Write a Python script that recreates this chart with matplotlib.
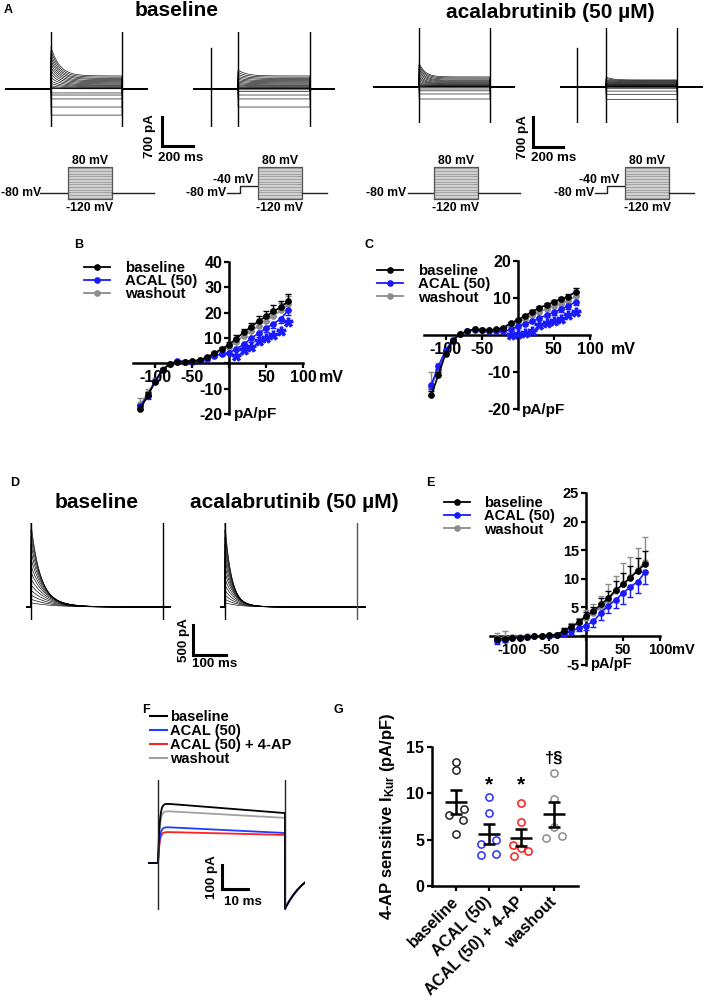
import numpy as np
import matplotlib
matplotlib.use("Agg")
import matplotlib.pyplot as plt
from matplotlib.lines import Line2D

plt.rcParams['font.family'] = ['Liberation Sans', 'DejaVu Sans']
plt.rcParams['font.weight'] = 'bold'
plt.rcParams['axes.labelweight'] = 'bold'
plt.rcParams['mathtext.fontset'] = 'custom'
plt.rcParams['mathtext.rm'] = 'Liberation Sans:bold'
plt.rcParams['mathtext.it'] = 'Liberation Sans:bold'
plt.rcParams['mathtext.bf'] = 'Liberation Sans:bold'

W, H = 709, 1008

# ====================== DATA ======================
volts = [-120, -110, -100, -90, -80, -70, -60, -50, -40, -30, -20, -10,
         0, 10, 20, 30, 40, 50, 60, 70, 80]
series_labels = ['baseline', 'ACAL (50)', 'washout']

# Panel B (pA/pF)
B_base = [-18.0, -12.6, -7.2, -2.5, -0.3, 0.7, 0.7, 0.9, 1.3, 2.4, 4.0, 5.7,
          7.4, 9.8, 12.3, 14.4, 16.7, 18.5, 20.5, 22.2, 24.5]
B_acal = [-16.8, -12.9, -7.0, -2.6, -0.2, 0.9, 0.7, 0.7, 1.0, 1.8, 2.9, 3.7,
          4.2, 5.8, 7.5, 9.9, 11.9, 13.9, 15.6, 17.6, 20.9]
B_wash = [-16.2, -11.8, -6.8, -2.3, -0.2, 0.6, 0.6, 0.8, 1.2, 2.1, 3.6, 5.0,
          6.6, 8.6, 10.9, 12.8, 14.9, 16.9, 18.8, 20.9, 23.3]
B_base_err = [1.5, 1.2, 0.8, 0.5, 0.2, 0.2, 0.2, 0.2, 0.2, 0.3, 0.4, 0.6,
              0.9, 1.2, 1.4, 1.7, 2.0, 2.2, 2.4, 2.6, 3.0]
B_acal_err = [1.2, 1.0, 0.7, 0.4, 0.2, 0.2, 0.2, 0.2, 0.2, 0.3, 0.4, 0.5,
              0.7, 0.9, 1.1, 1.3, 1.5, 1.6, 1.7, 1.8, 2.0]
B_wash_err = [2.6, 1.6, 0.9, 0.5, 0.2, 0.2, 0.2, 0.2, 0.2, 0.3, 0.5, 0.7,
              1.0, 1.3, 1.5, 1.8, 2.1, 2.3, 2.5, 2.8, 3.2]
B_star_v = [10, 20, 30, 40, 50, 60, 70, 80]
B_star_y = [3.0, 5.2, 6.6, 8.8, 9.9, 11.2, 12.8, 16.3]

# Panel C (pA/pF)
C_base = [-16.3, -10.8, -5.0, -1.5, 0.3, 1.0, 1.6, 1.4, 1.3, 1.5, 2.0, 3.2,
          4.1, 5.2, 6.3, 7.4, 8.1, 9.0, 9.7, 10.4, 11.7]
C_acal = [-13.5, -8.4, -4.1, -1.3, 0.3, 1.0, 1.4, 1.3, 1.2, 1.1, 1.0, 1.5,
          2.3, 3.0, 3.7, 4.6, 5.4, 6.1, 7.0, 7.8, 9.0]
C_wash = [-14.0, -9.5, -4.5, -1.4, 0.3, 1.0, 1.5, 1.4, 1.3, 1.3, 1.7, 2.6,
          3.5, 4.4, 5.3, 6.3, 7.0, 7.8, 8.5, 9.3, 10.5]
C_base_err = [1.2, 0.9, 0.6, 0.3, 0.1, 0.1, 0.1, 0.1, 0.1, 0.1, 0.2, 0.3,
              0.3, 0.3, 0.4, 0.4, 0.5, 0.5, 0.6, 0.7, 0.9]
C_acal_err = [1.0, 0.8, 0.5, 0.3, 0.1, 0.1, 0.1, 0.1, 0.1, 0.1, 0.2, 0.3,
              0.4, 0.4, 0.5, 0.5, 0.6, 0.6, 0.7, 0.7, 0.8]
C_wash_err = [3.9, 2.0, 0.8, 0.4, 0.1, 0.1, 0.1, 0.1, 0.1, 0.1, 0.2, 0.3,
              0.4, 0.4, 0.5, 0.5, 0.6, 0.6, 0.7, 0.8, 0.9]
C_star_v = [-10, 0, 10, 20, 30, 40, 50, 60, 70, 80]
C_star_y = [0.0, 0.4, 0.6, 1.1, 2.6, 3.2, 3.7, 4.2, 5.4, 6.3]

# Panel E (pA/pF)
E_base = [-0.5, -0.5, -0.3, -0.3, -0.2, -0.1, 0.0, 0.1, 0.2, 0.9, 1.6, 2.4,
          3.5, 4.3, 5.5, 6.6, 8.0, 9.0, 10.2, 11.4, 12.6]
E_acal = [-0.9, -0.7, -0.4, -0.3, -0.2, -0.1, 0.0, 0.0, 0.1, 0.4, 0.8, 1.4,
          1.8, 2.6, 4.0, 5.3, 6.3, 7.5, 8.6, 9.5, 11.2]
E_wash = [-0.3, -0.3, -0.2, -0.2, -0.1, 0.0, 0.0, 0.1, 0.2, 0.8, 1.5, 2.2,
          3.2, 4.0, 5.0, 6.3, 7.9, 9.1, 10.3, 11.6, 13.0]
E_base_err = [0.3, 0.3, 0.2, 0.2, 0.1, 0.1, 0.1, 0.1, 0.2, 0.4, 0.5, 0.6,
              0.7, 0.7, 1.1, 1.2, 1.6, 2.0, 2.0, 2.2, 2.2]
E_acal_err = [0.6, 0.3, 0.2, 0.2, 0.1, 0.1, 0.1, 0.1, 0.2, 0.3, 0.4, 0.5,
              0.8, 1.0, 1.2, 1.3, 1.5, 1.9, 1.8, 2.0, 2.2]
E_wash_err = [0.8, 1.1, 0.4, 0.3, 0.2, 0.2, 0.2, 0.2, 0.3, 0.5, 0.7, 1.0,
              1.3, 1.5, 1.9, 2.8, 2.5, 3.7, 3.5, 3.8, 4.3]

# Panel G (4-AP sensitive IKur, pA/pF)
G_categories = ['baseline', 'ACAL (50)', 'ACAL (50) + 4-AP', 'washout']
G_baseline = [13.4, 12.5, 8.3, 7.7, 7.1, 5.6]
G_acal = [9.6, 7.9, 5.0, 4.5, 3.3, 3.4]
G_acal_4ap = [9.0, 6.9, 4.4, 4.1, 3.8, 3.2]
G_washout = [12.2, 9.4, 6.4, 5.2, 5.4]
G_marks = ['', '*', '*', '†§']
G_mark_y = [0, 10.9, 10.9, 13.8]

# Panel A: sweep current levels (pA), test pulses -120..80 mV
A1_peak = [-630, -435, -240, -145, -95, 10, 20, 40, 80, 140, 200, 280, 360,
           440, 520, 600, 680, 760, 840, 930, 1015]
A1_steady = [-630, -435, -240, -145, -95, 5, 10, 15, 25, 40, 60, 80, 100,
             125, 150, 175, 200, 230, 255, 285, 315]
A2_peak = [-435, -240, -145, -60, -20, 5, 12, 20, 35, 55, 80, 105, 135, 165,
           200, 235, 270, 310, 355, 405, 460]
A2_steady = [-435, -240, -145, -60, -20, 5, 10, 15, 25, 40, 60, 80, 100, 125,
             150, 175, 200, 230, 255, 285, 315]
A3_peak = [-280, -163, -90, -47, -15, 8, 15, 30, 50, 80, 110, 150, 190, 230,
           270, 320, 370, 420, 470, 515, 560]
A3_steady = [-280, -163, -90, -47, -15, 5, 8, 12, 18, 25, 35, 50, 65, 80,
             100, 120, 140, 160, 185, 210, 235]
A4_peak = [-290, -170, -95, -40, -10, 4, 8, 13, 20, 28, 38, 50, 62, 76, 92,
           108, 126, 146, 168, 200, 235]
A4_steady = [-290, -170, -95, -40, -10, 3, 6, 10, 15, 22, 30, 40, 50, 62, 75,
             90, 105, 120, 135, 150, 165]
A_tau = [55, 55, 40, 40]   # ms
# protocol timing (ms): prepulse start, pulse on, pulse off, end
A1_times = [None, 297, 755, 922]
A2_times = [116, 290, 755, 916]
A3_times = [None, 307, 780, 947]
A4_times = [113, 307, 780, 954]
prot_test_mV = volts
prot_hold_mV = -80
prot_pre_mV = -40

# Panel D transient currents (pA, ms)
D_peak = [1400, 1290, 1170, 1050, 930, 810, 690, 580, 470, 370, 280, 200, 130, 70]
D_base_tau = [30, 32, 34, 36, 38, 40, 43, 46, 49, 52, 55, 58, 62, 66]
D_acal_tau = [20, 21, 22, 23, 24, 25, 27, 29, 31, 33, 35, 37, 40, 43]
D_times = [15, 415, 440]

# Panel F representative traces (pA)
F_labels = ['baseline', 'ACAL (50)', 'ACAL (50) + 4-AP', 'washout']
F_colors = ['#000000', '#1f3cff', '#ff2020', '#a0a0a0']
F_start = [250, 151, 130, 218]
F_end = [208, 125, 117, 188]
F_tail = -190
F_times = [3.85, 52.7, 60.4]

# ====================== FIGURE ======================
fig = plt.figure(figsize=(W / 100, H / 100), dpi=100)

ax_o = fig.add_axes([0, 0, 1, 1])
ax_o.set_xlim(0, W)
ax_o.set_ylim(H, 0)
ax_o.set_axis_off()


def add_px_axes(x0, y0, x1, y1):
    ax = fig.add_axes([x0 / W, 1 - y1 / H, (x1 - x0) / W, (y1 - y0) / H])
    ax.patch.set_alpha(0)
    return ax


def txt(x, y, s, size, ha='center', va='center', rot=0, color='k', **kw):
    ax_o.text(x, y, s, fontsize=size, ha=ha, va=va, rotation=rot,
              fontweight='bold', color=color, **kw)


BLACK, BLUE, GRAY = '#000000', '#1a1aff', '#8c8c8c'

# ---------------- panel labels & titles ----------------
for lab, (x, y) in zip('ABCDEFG', [(8, 10), (79, 245), (369, 245), (15, 483),
                                    (430, 483), (146, 710), (338, 710)]):
    txt(x, y, lab, 9, ha='center')
txt(177, 11, 'baseline', 15)
txt(550, 12, 'acalabrutinib (50 µM)', 15)
txt(97, 503, 'baseline', 15)
txt(294, 503, 'acalabrutinib (50 µM)', 15)


# ---------------- trace helper ----------------
def trace_axes(x0, y0, x1, y1, ybase, ms_px, pa_px):
    ax = add_px_axes(x0, y0, x1, y1)
    ax.set_xlim(0, (x1 - x0) * ms_px)
    ax.set_ylim(-(y1 - ybase) * pa_px, (ybase - y0) * pa_px)
    ax.set_axis_off()
    conv = lambda px, py: ((px - x0) * ms_px, (ybase - py) * pa_px)
    return ax, conv


def draw_sweeps(ax, times, peaks, steadys, tau):
    t_pre, t_on, t_off, t_end = times
    t = np.linspace(0, t_end, 2500)
    for p, s in zip(peaks, steadys):
        i = np.zeros_like(t)
        m = (t >= t_on) & (t < t_off)
        i[m] = s + (p - s) * np.exp(-(t[m] - t_on) / tau)
        a = t >= t_off
        i[a] = -0.12 * max(s, 0) * np.exp(-(t[a] - t_off) / 12)
        ax.plot(t, i, color='k', lw=0.45)
    ax.axvline(t_on, color='k', lw=1.0)
    ax.axvline(t_off, color='k', lw=1.0)


def scale_bar(ax, conv, px, py, dt, di, lt, li, lt_xy, li_xy, size=9.6):
    x, y = conv(px, py)
    ax.plot([x, x, x + dt], [y + di, y, y], color='k', lw=2.2,
            clip_on=False, solid_joinstyle='miter')
    txt(lt_xy[0], lt_xy[1], lt, size)
    txt(li_xy[0], li_xy[1], li, size, rot=90)


# ---------------- Panel A traces ----------------
msb, pab = 200 / 31, 700 / 29
msa, paa = 200 / 30, 700 / 30
axA1, cA1 = trace_axes(5, 32, 148, 127, 89, msb, pab)
draw_sweeps(axA1, A1_times, A1_peak, A1_steady, A_tau[0])
axA2, cA2 = trace_axes(193, 32, 335, 127, 89, msb, pab)
draw_sweeps(axA2, A2_times, A2_peak, A2_steady, A_tau[1])
axA2.plot([A2_times[0]] * 2, [cA2(0, 127)[1], cA2(0, 48)[1]], color='k', lw=1.0)
axA3, cA3 = trace_axes(373, 28, 515, 123, 87, msa, paa)
draw_sweeps(axA3, A3_times, A3_peak, A3_steady, A_tau[2])
axA4, cA4 = trace_axes(560, 28, 703, 123, 87, msa, paa)
draw_sweeps(axA4, A4_times, A4_peak, A4_steady, A_tau[3])
axA4.plot([A4_times[0]] * 2, [cA4(0, 123)[1], cA4(0, 48)[1]], color='k', lw=1.0)

scale_bar(axA1, cA1, 162, 146, 200, 700, '200 ms', '700 pA', (181, 158), (150, 136))
scale_bar(axA3, cA3, 533, 147, 200, 700, '200 ms', '700 pA', (554, 158), (523, 137))

# ---------------- Protocols ----------------
axP = add_px_axes(0, 150, W, 215)
axP.set_xlim(0, W)
# box top (80 mV) at 167 px, bottom (-120 mV) at 199 px -> 0.16 px/mV
axP.set_ylim(-120 - (215 - 199) / 0.16, 80 + (167 - 150) / 0.16)
axP.set_axis_off()

PFS = 8.8


def protocol(x_start, x_box0, x_box1, x_end, x_step=None):
    if x_step is None:
        axP.plot([x_start, x_box0], [prot_hold_mV] * 2, color='#222', lw=1.0)
    else:
        axP.plot([x_start, x_step, x_step, x_box0],
                 [prot_hold_mV, prot_hold_mV, prot_pre_mV, prot_pre_mV],
                 color='#222', lw=1.0)
    axP.fill_between([x_box0, x_box1], min(prot_test_mV), max(prot_test_mV),
                     color='#a3a3a3', lw=0)
    axP.hlines(prot_test_mV, x_box0, x_box1, color='#d2d2d2', lw=0.7)
    axP.plot([x_box0, x_box0, x_box1, x_box1, x_box0],
             [min(prot_test_mV), max(prot_test_mV), max(prot_test_mV),
              min(prot_test_mV), min(prot_test_mV)], color='#555', lw=0.9)
    axP.plot([x_box1, x_end], [prot_hold_mV] * 2, color='#222', lw=1.0)
    xc = (x_box0 + x_box1) / 2
    txt(xc, 161, '80 mV', PFS)
    txt(xc, 208, '-120 mV', PFS)


protocol(40, 68, 112, 154)
txt(1, 193, '-80 mV', PFS, ha='left')
protocol(227, 258, 302, 327, x_step=240)
txt(226, 193, '-80 mV', PFS, ha='right')
txt(233, 180, '-40 mV', PFS)
protocol(408, 434, 478, 520)
txt(406, 193, '-80 mV', PFS, ha='right')
protocol(595, 625, 669, 694, x_step=607)
txt(594, 193, '-80 mV', PFS, ha='right')
txt(599, 180, '-40 mV', PFS)


# ---------------- IV panels ----------------
def iv_axes(box, xlim, ylim, yticks, lsize):
    ax = add_px_axes(*box)
    ax.set_xlim(xlim)
    ax.set_ylim(ylim)
    for s in ['top', 'right']:
        ax.spines[s].set_visible(False)
    for s in ['left', 'bottom']:
        ax.spines[s].set_position(('data', 0))
        ax.spines[s].set_linewidth(1.8)
    xt = [-100, -50, 0, 50, 100]
    ax.set_xticks(xt)
    ax.set_xticklabels(['' if v == 0 else str(v) for v in xt])
    ax.set_yticks(yticks)
    ax.set_yticklabels(['' if v == 0 else str(v) for v in yticks])
    ax.tick_params(direction='out', length=3.5, width=1.6, labelsize=lsize, pad=1.5)
    return ax


zeros = [0.0] * len(volts)


def iv_series(ax, y, lo, hi, color, z):
    ax.errorbar(volts, y, yerr=[lo, hi], fmt='-o', color=color, ms=3.8, lw=1.2,
                elinewidth=1.0, capsize=2.0, capthick=1.0, zorder=z, clip_on=False)


def iv_legend(ax, x, y, fs):
    hs = [Line2D([0], [0], color=c, marker='o', ms=3.8, lw=1.3)
          for c in (BLACK, BLUE, GRAY)]
    ax.legend(hs, series_labels, loc='upper left', bbox_to_anchor=(x / W, 1 - y / H),
              bbox_transform=fig.transFigure, frameon=False, handlelength=1.75,
              handletextpad=1.0, labelspacing=-0.05, borderpad=0, borderaxespad=0,
              prop={'weight': 'bold', 'size': fs})


# B
axB = iv_axes((133, 262, 303, 414), (-130, 100), (-20, 40), [-20, -10, 0, 10, 20, 30, 40], 11.5)
iv_series(axB, B_wash, zeros, B_wash_err, GRAY, 3)
iv_series(axB, B_acal, B_acal_err, zeros, BLUE, 4)
iv_series(axB, B_base, zeros, B_base_err, BLACK, 5)
axB.plot(B_star_v, B_star_y, ls='none', marker='$*$', ms=6.5, color=BLUE, zorder=6)
iv_legend(axB, 84, 261, 10.8)
txt(319, 378, 'mV', 11.5, ha='left')
txt(234, 414, 'pA/pF', 11, ha='left')

# C
axC = iv_axes((424, 261, 590, 409), (-130, 100), (-20, 20), [-20, -10, 0, 10, 20], 11.5)
iv_series(axC, C_wash, zeros, C_wash_err, GRAY, 3)
iv_series(axC, C_acal, C_acal_err, zeros, BLUE, 4)
iv_series(axC, C_base, zeros, C_base_err, BLACK, 5)
axC.plot(C_star_v, C_star_y, ls='none', marker='$*$', ms=6.5, color=BLUE, zorder=6)
iv_legend(axC, 377, 264, 10.8)
txt(611, 350, 'mV', 11.5, ha='left')
txt(522, 410, 'pA/pF', 11, ha='left')

# E
axE = iv_axes((490, 493, 660, 664.5), (-130, 100), (-5, 25), [-5, 0, 5, 10, 15, 20, 25], 10.5)
iv_series(axE, E_wash, zeros, E_wash_err, GRAY, 3)
iv_series(axE, E_acal, E_acal_err, zeros, BLUE, 4)
iv_series(axE, E_base, zeros, E_base_err, BLACK, 5)
iv_legend(axE, 444, 496, 10.5)
txt(672, 650, 'mV', 10.5, ha='left')
txt(590, 664, 'pA/pF', 10.5, ha='left')

# ---------------- Panel D traces ----------------
msd, pad_ = 100 / 33, 500 / 30
axD1, cD1 = trace_axes(26, 523, 171, 620, 607, msd, pad_)
axD2, cD2 = trace_axes(220, 523, 366, 620, 607, msd, pad_)
for ax, taus, vcol in ((axD1, D_base_tau, 'k'), (axD2, D_acal_tau, '#555')):
    t_on, t_off, t_end = D_times
    t = np.linspace(0, t_end, 2500)
    for p, tau in zip(D_peak, taus):
        i = np.zeros_like(t)
        m = (t >= t_on) & (t < t_off)
        i[m] = p * np.exp(-(t[m] - t_on) / tau)
        ax.plot(t, i, color='k', lw=0.45)
    ax.axvline(t_on, color='k', lw=1.0)
    ax.axvline(t_off, color=vcol, lw=1.0)
scale_bar(axD1, cD1, 193, 655, 100, 500, '100 ms', '500 pA', (215, 664), (184, 640))

# ---------------- Panel F traces ----------------
msf, paf = 10 / 26, 100 / 24
axF, cF = trace_axes(148, 780, 305, 910, 863, msf, paf)
t_on, t_off, t_end = F_times
t = np.linspace(0, t_end, 3000)
order = [2, 3, 1, 0]
for k in order:
    i = np.zeros_like(t)
    m = (t >= t_on) & (t < t_off)
    frac = (t[m] - t_on) / (t_off - t_on)
    i[m] = (F_start[k] + (F_end[k] - F_start[k]) * frac) * (1 - np.exp(-(t[m] - t_on) / 0.6))
    a = t >= t_off
    i[a] = F_tail * np.exp(-(t[a] - t_off) / 9)
    axF.plot(t, i, color=F_colors[k], lw=1.3)
axF.axvline(t_on, color='#222', lw=1.0)
axF.axvline(t_off, color='#222', lw=1.0)
scale_bar(axF, cF, 222, 889, 10, 100, '10 ms', '100 pA', (243, 902), (212, 877))
hsF = [Line2D([0], [0], color=c, lw=1.5) for c in F_colors]
axF.legend(hsF, F_labels, loc='upper left', bbox_to_anchor=(150 / W, 1 - 710 / H),
           bbox_transform=fig.transFigure, frameon=False, handlelength=1.15,
           handletextpad=0.2, labelspacing=0.0, borderpad=0, borderaxespad=0,
           prop={'weight': 'bold', 'size': 10.5})

# ---------------- Panel G ----------------
axG = add_px_axes(432, 747, 578, 886)
axG.set_xlim(-0.75, 3.75)
axG.set_ylim(0, 15)
for s in ['top', 'right']:
    axG.spines[s].set_visible(False)
for s in ['left', 'bottom']:
    axG.spines[s].set_linewidth(1.8)
G_values = [G_baseline, G_acal, G_acal_4ap, G_washout]
G_colors = ['#222222', '#2b2bff', '#ff1a1a', '#8c8c8c']
G_jitter = [[0, 0, 0.23, -0.24, 0.21, 0],
            [0, 0, 0.23, -0.24, -0.24, 0.23],
            [0, 0, -0.25, 0, 0.22, -0.23],
            [0, 0, 0, -0.23, 0.26]]
for k, (vals, col, jit) in enumerate(zip(G_values, G_colors, G_jitter)):
    xs = [k + j for j in jit]
    axG.plot(xs, vals, ls='none', marker='o', ms=5.2, mfc='none', mec=col, mew=1.1,
             clip_on=False, zorder=3)
    mean = np.mean(vals)
    sem = np.std(vals, ddof=1) / np.sqrt(len(vals))
    axG.hlines(mean, k - 0.34, k + 0.34, color='k', lw=1.8, zorder=4)
    axG.errorbar([k], [mean], yerr=[[sem], [sem]], fmt='none', ecolor='k',
                 elinewidth=1.8, capsize=4.6, capthick=1.8, zorder=4)
    if G_marks[k]:
        axG.text(k, G_mark_y[k], G_marks[k], ha='center', va='center',
                 fontsize=15 if G_marks[k] == '*' else 12, fontweight='bold')
axG.set_xticks(range(4))
axG.set_xticklabels(G_categories, rotation=45, ha='right', va='center',
                    rotation_mode='anchor', fontsize=11.5, fontweight='bold')
axG.set_yticks([0, 5, 10, 15])
axG.tick_params(direction='out', length=3.5, width=1.6, labelsize=11.5, pad=2)
axG.tick_params(axis='x', pad=6)
axG.set_ylabel('4-AP sensitive I$_{\\mathrm{Kur}}$ (pA/pF)', fontsize=12,
               fontweight='bold')
axG.yaxis.set_label_coords(-0.24, 0.5)

fig.savefig('out.png', dpi=100)
